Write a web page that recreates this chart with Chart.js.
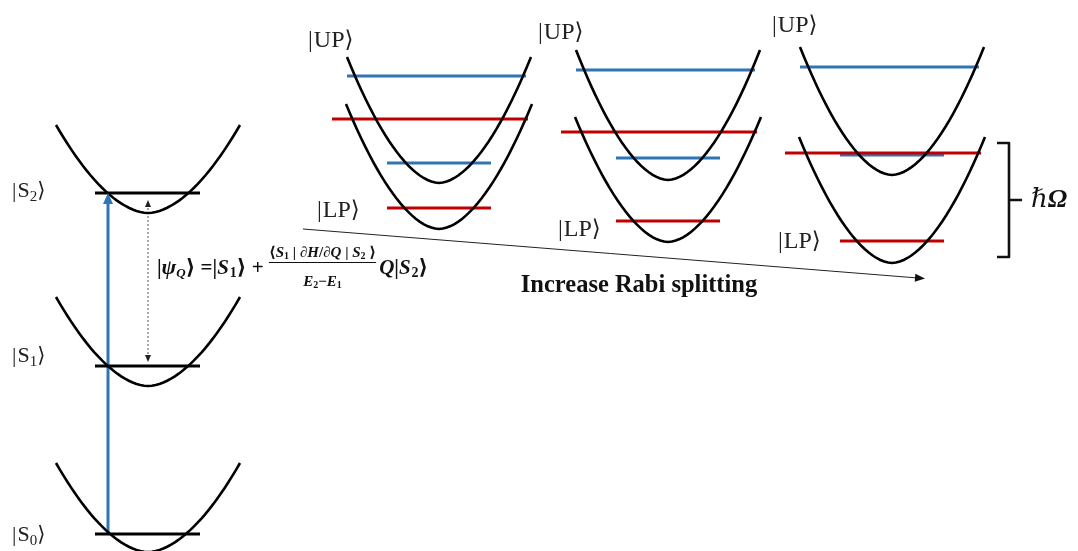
<!DOCTYPE html>
<html>
<head>
<meta charset="utf-8">
<style>
  body { margin: 0; background: #fff; }
  canvas { display: block; }
</style>
</head>
<body>
<canvas id="c" width="1078" height="551"></canvas>
<script src="https://cdn.jsdelivr.net/npm/chart.js@4"></script>
<script>
    // molecular states (left column): vertex and top of each well, level height
    var stateNames = ['2', '1', '0'];
    var stateVertexY = [213, 386, 552];
    var stateTopY = [125, 297, 463];
    var stateLevelY = [193, 366, 534];
    var stateCenterX = 148;

    // polariton panels, weak -> strong coupling
    var panelCenterX = [439, 668, 892];
    var upVertexY = [183, 180, 175];
    var upTopY = [57, 50, 47];
    var lpVertexY = [229, 242, 263];
    var lpTopY = [104, 117, 137];
    var upLevelY = [76, 70, 67];        // blue, upper well
    var lpHighLevelY = [119, 132, 153]; // red, crosses both wells
    var upLowLevelY = [163, 158, 155];  // blue, short
    var lpLevelY = [208, 221, 241];     // red, short

    var arrowText = 'Increase Rabi splitting';

    const BLUE = '#2e75b6', RED = '#c00000', BLACK = '#000';
    const SERIF = '"Liberation Serif", "DejaVu Serif", serif';

    // well outline, slightly rounder than a pure parabola
    function well(cx, vy, ty, hw) {
        const pts = [];
        const depth = vy - ty;
        for (let i = -24; i <= 24; i++) {
            const t = i / 24;
            pts.push({ x: cx + hw * t, y: vy - depth * Math.pow(Math.abs(t), 1.8) });
        }
        return pts;
    }
    function seg(x1, x2, y, color, w) {
        return { data: [{ x: x1, y: y }, { x: x2, y: y }], borderColor: color, borderWidth: w || 3, showLine: true, pointRadius: 0 };
    }
    function curve(pts) {
        return { data: pts, borderColor: BLACK, borderWidth: 2.6, showLine: true, pointRadius: 0, tension: 0 };
    }

    const datasets = [];
    stateNames.forEach((n, i) => {
        datasets.push(curve(well(stateCenterX, stateVertexY[i], stateTopY[i], 92)));
        datasets.push(seg(95, 200, stateLevelY[i], BLACK, 3));
    });
    panelCenterX.forEach((cx, i) => {
        datasets.push(curve(well(cx, upVertexY[i], upTopY[i], 92)));
        datasets.push(curve(well(cx, lpVertexY[i], lpTopY[i], 93)));
        datasets.push(seg(cx - 92, cx + 87, upLevelY[i], BLUE));
        datasets.push(seg(cx - 107, cx + 89, lpHighLevelY[i], RED));
        datasets.push(seg(cx - 52, cx + 52, upLowLevelY[i], BLUE));
        datasets.push(seg(cx - 52, cx + 52, lpLevelY[i], RED));
    });
    // excitation arrow and the long "increase" arrow
    datasets.push({ data: [{ x: 108, y: stateLevelY[2] }, { x: 108, y: stateLevelY[0] + 8 }], borderColor: BLUE, borderWidth: 3, showLine: true, pointRadius: 0 });
    datasets.push({ data: [{ x: 303, y: 229 }, { x: 918, y: 278 }], borderColor: '#222', borderWidth: 1, showLine: true, pointRadius: 0 });
    // dotted coupling arrow
    datasets.push({ data: [{ x: 148, y: 204 }, { x: 148, y: 358 }], borderColor: '#555', borderWidth: 1, borderDash: [2, 2], showLine: true, pointRadius: 0 });

    function runs(ctx, x, y, list) {
        for (const r of list) {
            ctx.font = (r.it ? 'italic ' : '') + (r.b ? 'bold ' : '') + r.s + 'px ' + SERIF;
            ctx.fillText(r.t, x, y + (r.dy || 0));
            x += ctx.measureText(r.t).width + (r.sp || 0);
        }
        return x;
    }
    function width(ctx, list) {
        let w = 0;
        for (const r of list) {
            ctx.font = (r.it ? 'italic ' : '') + (r.b ? 'bold ' : '') + r.s + 'px ' + SERIF;
            w += ctx.measureText(r.t).width + (r.sp || 0);
        }
        return w;
    }
    function head(ctx, x, y, ang, len, half, color) {
        ctx.save();
        ctx.translate(x, y);
        ctx.rotate(ang);
        ctx.fillStyle = color;
        ctx.beginPath();
        ctx.moveTo(0, 0);
        ctx.lineTo(-len, -half);
        ctx.lineTo(-len, half);
        ctx.closePath();
        ctx.fill();
        ctx.restore();
    }
    function ket(ctx, x, y, main, sub, size) {
        const l = [{ t: '|', s: size, sp: 1 }, { t: main, s: size }];
        if (sub) l.push({ t: sub, s: Math.round(size * 0.68), dy: 4 });
        l.push({ t: '⟩', s: size - 1 });
        runs(ctx, x, y, l);
    }

    const annotate = {
        id: 'annotate',
        afterDatasetsDraw(chart) {
            const ctx = chart.ctx;
            const X = v => chart.scales.x.getPixelForValue(v);
            const Y = v => chart.scales.y.getPixelForValue(v);
            ctx.save();
            ctx.textBaseline = 'alphabetic';
            ctx.fillStyle = '#222';

            // arrow heads
            head(ctx, X(108), Y(stateLevelY[0]), -Math.PI / 2, 11, 5, BLUE);
            head(ctx, X(148), Y(200), -Math.PI / 2, 7, 3, '#222');
            head(ctx, X(148), Y(362), Math.PI / 2, 7, 3, '#222');
            head(ctx, X(925), Y(278.6), Math.atan2(49, 615), 10, 4, '#111');

            // state labels
            const sy = [197, 362, 541];
            stateNames.forEach((n, i) => ket(ctx, X(12), Y(sy[i]), 'S', n, 22));
            const upX = [308, 538, 772], upY = [47, 39, 32];
            const lpX = [317, 558, 778], lpY = [217, 236, 248];
            panelCenterX.forEach((c, i) => {
                ket(ctx, X(upX[i]), Y(upY[i]), 'UP', null, 24);
                ket(ctx, X(lpX[i]), Y(lpY[i]), 'LP', null, 24);
            });

            // formula
            ctx.fillStyle = '#111';
            let x = runs(ctx, X(157), Y(274), [
                { t: '|', s: 21, b: 1 }, { t: 'ψ', s: 22, b: 1, it: 1 }, { t: 'Q', s: 13, b: 1, it: 1, dy: 3 },
                { t: '⟩ =|', s: 21, b: 1 }, { t: 'S', s: 21, b: 1, it: 1, sp: 1 }, { t: '1', s: 14, b: 1, dy: 3 },
                { t: '⟩ + ', s: 21, b: 1 }
            ]);
            const num = [
                { t: '⟨', s: 15, b: 1 }, { t: 'S', s: 15, b: 1, it: 1 }, { t: '1', s: 10, b: 1, dy: 2 },
                { t: ' | ∂', s: 15, b: 1 }, { t: 'H', s: 15, b: 1, it: 1 }, { t: '/∂', s: 15, b: 1 },
                { t: 'Q', s: 15, b: 1, it: 1 }, { t: ' | ', s: 15, b: 1 }, { t: 'S', s: 15, b: 1, it: 1 },
                { t: '2', s: 10, b: 1, dy: 2 }, { t: ' ⟩', s: 15, b: 1 }
            ];
            const den = [
                { t: 'E', s: 15, b: 1, it: 1 }, { t: '2', s: 10, b: 1, dy: 2 }, { t: '−', s: 15, b: 1 },
                { t: 'E', s: 15, b: 1, it: 1 }, { t: '1', s: 10, b: 1, dy: 2 }
            ];
            const nw = width(ctx, num), dw = width(ctx, den);
            runs(ctx, x, Y(257), num);
            ctx.strokeStyle = '#111';
            ctx.lineWidth = 1;
            ctx.beginPath();
            ctx.moveTo(x, Y(262.5));
            ctx.lineTo(x + nw, Y(262.5));
            ctx.stroke();
            runs(ctx, x + (nw - dw) / 2, Y(286), den);
            x += nw + 3;
            runs(ctx, x, Y(274), [
                { t: 'Q', s: 21, b: 1, it: 1 }, { t: '|', s: 21, b: 1 }, { t: 'S', s: 21, b: 1, it: 1, sp: 1 },
                { t: '2', s: 14, b: 1, dy: 3 }, { t: '⟩', s: 21, b: 1 }
            ]);

            // arrow caption
            ctx.fillStyle = '#111';
            ctx.font = 'bold 24.5px ' + SERIF;
            ctx.textAlign = 'center';
            ctx.fillText(arrowText, X(639), Y(292));

            // bracket for hbar Omega
            ctx.strokeStyle = '#111';
            ctx.lineWidth = 2.6;
            ctx.lineJoin = 'round';
            ctx.beginPath();
            ctx.moveTo(X(997), Y(143));
            ctx.lineTo(X(1009), Y(143));
            ctx.lineTo(X(1009), Y(257));
            ctx.lineTo(X(997), Y(257));
            ctx.moveTo(X(1009), Y(200));
            ctx.lineTo(X(1022), Y(200));
            ctx.stroke();
            ctx.textAlign = 'left';
            runs(ctx, X(1031), Y(207), [
                { t: 'ℏ', s: 26, it: 1 }, { t: 'Ω', s: 26, b: 1, it: 1 }
            ]);
            ctx.restore();
        }
    };

    new Chart(document.getElementById('c'), {
        type: 'scatter',
        data: { datasets: datasets },
        options: {
            responsive: false,
            animation: false,
            layout: { padding: 0 },
            plugins: { legend: { display: false }, tooltip: { enabled: false } },
            scales: {
                x: { type: 'linear', min: 0, max: 1078, display: false },
                y: { type: 'linear', min: 0, max: 551, reverse: true, display: false }
            }
        },
        plugins: [annotate]
    });
</script>
</body>
</html>
